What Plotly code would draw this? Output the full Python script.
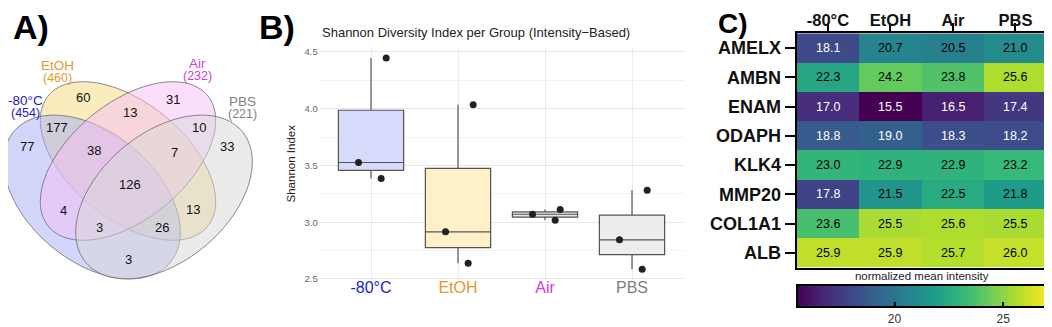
import numpy as np
import plotly.graph_objects as go

# The page body adds an 8px margin; the figure is sized to fill the rest of the 1052x327 window.
OFF = 8
WIN_W, WIN_H = 1052, 327
FW, FH = WIN_W - OFF, WIN_H - OFF


def fx(X):  # window pixel x -> paper fraction
    return (X - OFF) / FW


def fy(Y):  # window pixel y -> paper fraction
    return 1 - (Y - OFF) / FH


# ---------------- DATA ----------------
venn_sets = ["-80°C", "EtOH", "Air", "PBS"]
venn_totals = [454, 460, 232, 221]
venn_set_colors = ["#1c1cc8", "#e39a2c", "#d23ed2", "#7f7f7f"]
# region counts (by region name)
venn_regions = ["-80", "E", "A", "P", "-80E", "EA", "AP", "-80EA", "EAP",
                "-80EAP", "-80A", "EP", "-80AP", "-80EP", "-80P"]
venn_counts = [77, 60, 31, 33, 177, 13, 10, 38, 7, 126, 4, 13, 3, 26, 3]

groups = ["-80°C", "EtOH", "Air", "PBS"]
shannon_m80 = [3.386, 3.526, 4.447]
shannon_etoh = [2.638, 2.915, 4.035]
shannon_air = [3.018, 3.070, 3.111]
shannon_pbs = [2.585, 2.845, 3.281]
box_fill = ["#d7dbfb", "#fff1c7", "#ede1ed", "#ededed"]
label_colors = ["#1c1cc8", "#e39a2c", "#d23ed2", "#7f7f7f"]

genes = ["AMELX", "AMBN", "ENAM", "ODAPH", "KLK4", "MMP20", "COL1A1", "ALB"]
conditions = ["-80°C", "EtOH", "Air", "PBS"]
intensity = [
    [18.1, 20.7, 20.5, 21.0],
    [22.3, 24.2, 23.8, 25.6],
    [17.0, 15.5, 16.5, 17.4],
    [18.8, 19.0, 18.3, 18.2],
    [23.0, 22.9, 22.9, 23.2],
    [17.8, 21.5, 22.5, 21.8],
    [23.6, 25.5, 25.6, 25.5],
    [25.9, 25.9, 25.7, 26.0],
]

FONT = "Liberation Sans, Arial, sans-serif"

fig = go.Figure()

# ---------------- Panel A: Venn (axis units = window pixels) ----------------
def ellipse_path(cx, cy, a, b, theta_deg, n=140):
    t = np.linspace(0, 2 * np.pi, n)
    th = np.deg2rad(theta_deg)
    x = cx + a * np.cos(t) * np.cos(th) - b * np.sin(t) * np.sin(th)
    y = cy + a * np.cos(t) * np.sin(th) + b * np.sin(t) * np.cos(th)
    return "M " + " L ".join(f"{xi:.2f},{yi:.2f}" for xi, yi in zip(x, y)) + " Z"

# drawing order: EtOH, -80°C, Air, PBS
ellipses = [  # (cx, cy, a, b, theta, fill)
    (128, 161, 103, 58, 39.4, "rgba(247,217,125,0.5)"),
    (92, 197, 102, 64, 40, "rgba(165,173,245,0.5)"),
    (128, 161, 103, 58, 140.6, "rgba(245,189,245,0.5)"),
    (164, 197, 102, 64, 140, "rgba(215,215,215,0.5)"),
]
shapes = []
for cx, cy, a, b, th, fc in ellipses:
    shapes.append(dict(type="path", path=ellipse_path(cx, cy, a, b, th), xref="x", yref="y",
                       fillcolor=fc, line=dict(color="rgba(115,115,115,0.85)", width=1), layer="below"))

fig.add_trace(go.Scatter(x=[100], y=[100], mode="markers", marker=dict(opacity=0), hoverinfo="skip",
                         showlegend=False, xaxis="x", yaxis="y"))

region_pos = {"-80": (27, 146), "E": (83, 97), "A": (173, 99), "P": (227, 146),
              "-80E": (57, 127), "EA": (130, 112), "AP": (199, 127), "-80EA": (94, 150),
              "EAP": (174, 152), "-80EAP": (130, 184), "-80A": (63, 210), "EP": (193, 209),
              "-80AP": (99, 227), "-80EP": (162, 227), "-80P": (128, 259)}
annotations = []
for r, c in zip(venn_regions, venn_counts):
    x, y = region_pos[r]
    annotations.append(dict(x=x, y=y, xref="x", yref="y", text=str(c), showarrow=False,
                            font=dict(family=FONT, size=13, color="#111")))
set_label_pos = [(25, 100), (57, 65), (197, 63), (242, 101)]
for name, tot, col, (x, y) in zip(venn_sets, venn_totals, venn_set_colors, set_label_pos):
    annotations.append(dict(x=x, y=y, xref="x", yref="y", text=name, showarrow=False,
                            yanchor="middle", font=dict(family=FONT, size=13.5, color=col)))
    annotations.append(dict(x=x, y=y + 13, xref="x", yref="y", text=f"({tot})", showarrow=False,
                            yanchor="middle", font=dict(family=FONT, size=12.5, color=col)))

# panel letters
for txt, px, py, fs in [("A)", 31, 27, 34), ("B)", 277, 27, 34), ("C)", 733, 23.8, 28)]:
    annotations.append(dict(x=fx(px), y=fy(py), xref="paper", yref="paper", text=txt, showarrow=False,
                            font=dict(family=FONT, size=fs, color="#000", weight="bold"),
                            xanchor="center", yanchor="middle"))

# ---------------- Panel B: Boxplot ----------------
shannon = [shannon_m80, shannon_etoh, shannon_air, shannon_pbs]
for g, vals, fc in zip(groups, shannon, box_fill):
    fig.add_trace(go.Box(x=[g] * len(vals), y=vals, name=g, xaxis="x2", yaxis="y2",
                         fillcolor=fc, line=dict(color="#555555", width=1.2), width=0.75,
                         whiskerwidth=0, boxpoints="all", jitter=0.6, pointpos=0,
                         quartilemethod="inclusive",
                         marker=dict(color="#222222", size=7), showlegend=False, hoverinfo="skip"))

annotations.append(dict(x=fx(320), y=fy(33), xref="paper", yref="paper",
                        text="Shannon Diversity Index per Group (Intensity\u2212Based)", showarrow=False,
                        xanchor="left", yanchor="middle", font=dict(family=FONT, size=13, color="#222")))

# ---------------- Panel C: Heatmap ----------------
fig.add_trace(go.Heatmap(z=intensity, x=conditions, y=genes, xaxis="x3", yaxis="y3",
                         colorscale="Viridis", zmin=15.5, zmax=27.0, xgap=0, ygap=0,
                         hoverinfo="skip",
                         colorbar=dict(orientation="h", x=fx(921.7), xanchor="center",
                                       y=fy(273), yanchor="top", ypad=0, xpad=0,
                                       len=250, lenmode="pixels", thickness=22,
                                       outlinewidth=2, outlinecolor="black",
                                       tickvals=[20, 25], ticks="inside", ticklen=6, tickwidth=2,
                                       tickcolor="black",
                                       tickfont=dict(family=FONT, size=12, color="#333"),
                                       title=dict(text="normalized mean intensity", side="top",
                                                  font=dict(family=FONT, size=11.5, color="#222")))))
for i, g in enumerate(genes):
    for j, c in enumerate(conditions):
        v = intensity[i][j]
        annotations.append(dict(x=c, y=g, xref="x3", yref="y3", text=f"{v:.1f}", showarrow=False,
                                font=dict(family=FONT, size=12.5, color="white" if v < 20 else "black")))

tick_txt = [f"<span style='color:{c}'>{g}</span>" for g, c in zip(groups, label_colors)]

fig.update_layout(
    width=FW, height=FH, margin=dict(l=0, r=0, t=0, b=0, autoexpand=False),
    paper_bgcolor="white", plot_bgcolor="rgba(0,0,0,0)",
    shapes=shapes, annotations=annotations,
    xaxis=dict(domain=[0, fx(360)], range=[OFF, 360], visible=False, fixedrange=True),
    yaxis=dict(domain=[0, 1], range=[WIN_H, OFF], visible=False, fixedrange=True),
    xaxis2=dict(domain=[fx(318.8), fx(684.2)], range=[-0.6, 3.6], type="category", anchor="y2",
                categoryorder="array", categoryarray=groups,
                tickvals=groups, ticktext=tick_txt, tickfont=dict(family=FONT, size=16),
                ticklabelstandoff=-4,
                showgrid=True, gridcolor="#ebebeb", zeroline=False, showline=False, ticks=""),
    yaxis2=dict(domain=[fy(280.1), fy(47.4)], range=[2.49, 4.54], anchor="x2",
                tickvals=[2.5, 3.0, 3.5, 4.0, 4.5], ticktext=["2.5", "3.0", "3.5", "4.0", "4.5"],
                tickfont=dict(family=FONT, size=9.5, color="#666"),
                showgrid=True, gridcolor="#e8e8e8", zeroline=False, ticks="",
                minor=dict(dtick=0.25, tick0=2.5, showgrid=True, gridcolor="#f2f2f2"),
                title=dict(text="Shannon Index", standoff=6, font=dict(family=FONT, size=11.5, color="#222"))),
    xaxis3=dict(domain=[fx(796.7), fx(1046.7)], side="top", anchor="y3",
                tickfont=dict(family=FONT, size=16.5, color="#111", weight="bold"),
                ticks="outside", ticklen=8, tickwidth=2, tickcolor="black", ticklabelstandoff=-9,
                showline=True, linecolor="black", linewidth=2, mirror=True, showgrid=False, zeroline=False),
    yaxis3=dict(domain=[fy(267.7), fy(33.3)], anchor="x3", autorange="reversed",
                tickfont=dict(family=FONT, size=18, color="#111", weight="bold"),
                ticks="outside", ticklen=10, tickwidth=2, tickcolor="black",
                showline=True, linecolor="black", linewidth=2, mirror=True, showgrid=False, zeroline=False),
)

fig.write_html("out.html")
